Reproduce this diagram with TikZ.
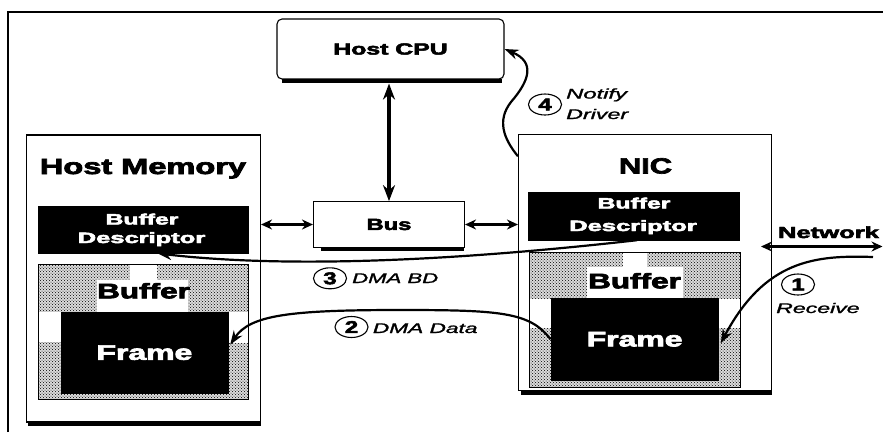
\documentclass[tikz,border=0pt]{standalone}
\usepackage{fontspec}
\setmainfont{Liberation Sans}
\newfontfamily\hv[FakeBold=3]{Liberation Sans}
\newfontfamily\lblfont[FakeBold=1.3]{Liberation Sans}
\usetikzlibrary{arrows.meta,patterns,shapes.geometric}
\newcommand\T[3]{{\fontsize{#1}{#1}\selectfont\scalebox{#2}[1]{#3}}}
\tikzset{
  box/.style={draw, line width=1.1pt, inner sep=0pt, fill=white},
  heavy/.style={font=\hv\bfseries},
  blk/.style={fill=black, draw=black, inner sep=0pt, text=white, font=\hv\bfseries},
  stip/.style={fill=black!14, postaction={pattern=crosshatch dots, pattern color=black}, inner sep=0pt},
  lab/.style={inner sep=0pt, anchor=base, font=\hv\bfseries},
  wlab/.style={inner sep=0pt, anchor=base, text=white, font=\hv\bfseries},
  ilab/.style={inner sep=0pt, anchor=base west, font=\lblfont\itshape},
  num/.style={ellipse, draw, line width=1.1pt, minimum width=33pt, minimum height=21pt, inner sep=0pt, font=\hv\bfseries},
  conn/.style={line width=2.2pt, -{Stealth[length=14pt,width=10pt]}},
  dbl/.style={line width=2.2pt, {Stealth[length=11pt,width=10pt]}-{Stealth[length=11pt,width=10pt]}},
  vdbl/.style={line width=3.2pt, {Stealth[length=16pt,width=12pt]}-{Stealth[length=16pt,width=12pt]}},
  shade/.style={line width=3.2pt},
}
\begin{document}
\begin{tikzpicture}[x=1pt,y=-1pt]
\useasboundingbox (0,0) rectangle (883,432);
\fill[white] (0,0) rectangle (883,432);
% outer frame
\coordinate (ftl) at (8,12);
\coordinate (ftr) at (883,12);
\coordinate (fbl) at (8,432);
\draw[line width=1.4pt] (fbl) -- (ftl) -- (ftr);

% main boxes
\node[box, heavy, rounded corners=5pt, minimum width=227pt, minimum height=60pt] (cpu) at (390.5,49) {\T{16}{1.55}{Host CPU}};
\draw[shade] ([xshift=6pt,yshift=-1.5pt]cpu.south west) -- ([xshift=-3pt,yshift=-1.5pt]cpu.south east);
\node[box, minimum width=234pt, minimum height=287pt] (hm) at (143.5,278.5) {};
\draw[shade] ([xshift=2pt,yshift=-1.5pt]hm.south west) -- ([yshift=-1.5pt]hm.south east);
\node[box, minimum width=253pt, minimum height=256pt] (nic) at (645,262.85) {};
\draw[shade] ([xshift=3pt,yshift=-1.5pt]nic.south west) -- ([yshift=-1.5pt]nic.south east);
\node[box, heavy, minimum width=151pt, minimum height=45.6pt] (bus) at (389,224.5) {\T{16}{1.48}{Bus}};
\draw[shade] ([xshift=8pt,yshift=-1.5pt]bus.south west) -- ([xshift=-1pt,yshift=-1.5pt]bus.south east);

% titles
\node[lab] (hmlab) at (143,174) {\T{22}{1.48}{Host Memory}};
\node[lab] (niclab) at (645.5,173.5) {\T{22}{1.4}{NIC}};

% buffer descriptors
\node[blk, minimum width=210pt, minimum height=47pt] (hmbd) at (142.7,229.2) {};
\node[wlab] (hmbd1) at (142,224.5) {\T{15}{1.65}{Buffer}};
\node[wlab] (hmbd2) at (141.5,243) {\T{15}{1.7}{Descriptor}};
\node[blk, minimum width=211pt, minimum height=47.7pt] (nicbd) at (633.5,216.15) {};
\node[wlab] (nicbd1) at (634,208.5) {\T{15}{1.65}{Buffer}};
\node[wlab] (nicbd2) at (633,231) {\T{15}{1.7}{Descriptor}};

% host memory buffer
\node[stip, minimum width=210pt, minimum height=134.3pt] (hmbuf) at (143.3,332.15) {};
\fill[white] (130,265) rectangle (157,281);
\fill[white] (97,280) rectangle (188,313);
\fill[white] (38.3,312) rectangle (61,342);
\fill[white] (227,312) rectangle (248.3,343);
\draw[line width=0.9pt] (hmbuf.north west) rectangle (hmbuf.south east);
\node[lab] (hmbuflab) at (143.5,298.3) {\T{21}{1.5}{Buffer}};
\node[blk, minimum width=167.2pt, minimum height=81.3pt] (hmframe) at (144.4,352.65) {\T{21}{1.52}{Frame}};

% NIC buffer
\node[stip, minimum width=210.5pt, minimum height=134.3pt] (nicbuf) at (634.75,319.85) {};
\fill[white] (623,252.7) rectangle (647,267);
\fill[white] (587,266.5) rectangle (683,299.5);
\fill[white] (529.5,298.5) rectangle (551,328);
\fill[white] (718,298.5) rectangle (740,328);
\draw[line width=0.9pt] (nicbuf.north west) rectangle (nicbuf.south east);
\node[lab] (nicbuflab) at (634.5,288.3) {\T{21}{1.5}{Buffer}};
\node[blk, minimum width=167.8pt, minimum height=81.5pt] (nicframe) at (634.6,339.25) {\T{21}{1.52}{Frame}};

% CPU <-> Bus
\coordinate (cpuarr) at ([yshift=-4pt]cpu.south);
\draw[vdbl] (bus.north |- cpuarr) -- (bus.north);
% Bus side links
\draw[dbl] (hm.east |- bus.west) -- (bus.west);
\draw[dbl] (bus.east) -- (bus.east -| nic.west);
% Network
\coordinate (netl) at (761,246.5);
\coordinate (netr) at (882.5,246.5);
\draw[dbl] (netl) -- (netr);
\node[lab] (netlab) at (828.5,238) {\T{16}{1.6}{Network}};

% 1 Receive
\coordinate (rxin) at (873,257);
\draw[conn] (rxin) .. controls (815,255) and (765,260) .. ([xshift=2pt,yshift=-4pt]nicframe.east);
\node[num] (c1) at (798,284.5) {\T{17}{1.4}{1}};
\node[ilab] (rcv) at (776,313) {\T{14}{1.65}{Receive}};

% 2 DMA Data
\draw[conn] (nicframe.west) .. controls (530,312) and (500,310) .. (400,310) .. controls (290,310) and (250,315) .. ([xshift=2pt,yshift=8pt]hmframe.east);
\node[num] (c2) at (351.5,327) {\T{17}{1.4}{2}};
\node[ilab] (dmadata) at (372.7,333) {\T{14}{1.62}{DMA Data}};

% 3 DMA BD
\draw[conn] ([xshift=3.5pt]nicbd.south) .. controls (480,258) and (300,270) .. ([xshift=15pt,yshift=-0.5pt]hmbd.south);
\node[num] (c3) at (330,278.3) {\T{17}{1.4}{3}};
\node[ilab] (dmabd) at (352,283) {\T{14}{1.58}{DMA BD}};

% 4 Notify Driver
\draw[conn] ([yshift=-22pt]nic.north west) .. controls (503,138) and (497,120) .. (511,102) .. controls (530,80) and (535,62) .. (cpu.east);
\node[num] (c4) at (545,104.5) {\T{17}{1.4}{4}};
\node[ilab] (notify) at (566,98.5) {\T{14}{1.7}{Notify}};
\node[ilab] (driver) at (566,119) {\T{14}{1.66}{Driver}};
\end{tikzpicture}
\end{document}
